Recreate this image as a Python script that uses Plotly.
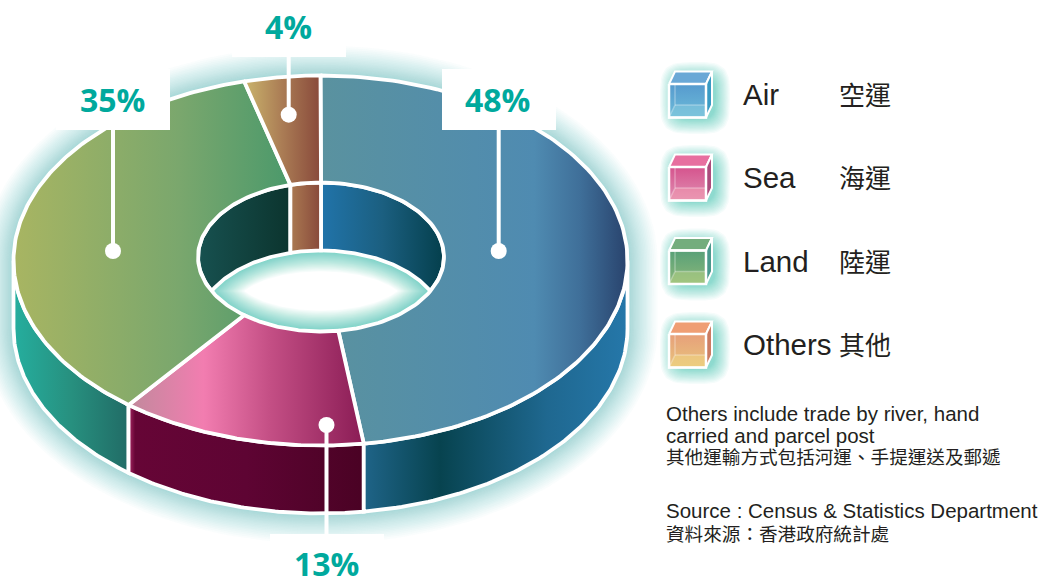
import numpy as np
import plotly.graph_objects as go

# ---- data ----
categories = ["Air", "Sea", "Land", "Others"]
categories_zh = ["空運", "海運", "陸運", "其他"]
pct_labels = ["48%", "13%", "35%", "4%"]
shares = [47.75, 13.0, 35.25, 4.0]

notes_en = ["Others include trade by river, hand", "carried and parcel post"]
note_zh = "其他運輸方式包括河運、手提運送及郵遞"
source_en = "Source : Census & Statistics Department"
source_zh = "資料來源：香港政府統計處"

# ---- canvas geometry (pixel-like axes) ----
W, H = 1040, 576
CX, CY, RX, RY = 320.5, 260.5, 307, 185
ICX, ICY, IRX, IRY = 321, 257, 123, 74.5
DEPTH = 68
TEAL = "#00a99d"
INK = "#231f20"
SANS = "Liberation Sans"
CJK = "Noto Sans CJK TC"

top_stops = {
    "Air": (320, 626, [(0, "#5a929f"), (.70, "#4f8bb1"), (.85, "#3f6f99"), (1, "#29446e")]),
    "Sea": (128, 364, [(0, "#c08a9c"), (.32, "#f27db0"), (.6, "#c44f85"), (1, "#8a1c55")]),
    "Land": (14, 290, [(0, "#a8b562"), (.6, "#7aa76d"), (1, "#4b996b")]),
    "Others": (243, 320, [(0, "#cbb66d"), (.5, "#ab7d55"), (1, "#894a3b")]),
}
side_stops = {
    "Air": (364, 626, [(0, "#1f6488"), (.29, "#07434f"), (.7, "#1f6890"), (1, "#2577a9")]),
    "Sea": (128, 364, [(0, "#b02a68"), (.03, "#660536"), (.5, "#5e0433"), (1, "#4a0224")]),
    "Land": (14, 128, [(0, "#25ae9e"), (.5, "#27907f"), (1, "#216c66")]),
}
wall_stops = {
    "Air": (321, 444, [(0, "#2174aa"), (.5, "#1b5f80"), (1, "#043f4c")]),
    "Land": (198, 288, [(0, "#175150"), (1, "#0c352f")]),
    "Others": (288, 320, [(0, "#ae7e54"), (1, "#884a3b")]),
}
cube_faces = {
    "Air": dict(top="#6aa8d6", right="#3a9bc3", front=("#569ace", "#6dbcd9"), floor="#8fcfe0"),
    "Sea": dict(top="#e76f9f", right="#ac4b7c", front=("#d5538d", "#e08fb2"), floor="#f6a0b2"),
    "Land": dict(top="#74ad7d", right="#4a998c", front=("#58a078", "#8cb879"), floor="#bcd488"),
    "Others": dict(top="#ef9e74", right="#cb7c62", front=("#e79f7a", "#e8c47c"), floor="#f2da84"),
}
cube_tops = [84, 167, 250.5, 334]
legend_y = [94, 177, 261, 344]

# ---- angles derived from the values ----
edges = np.cumsum([0] + shares) / sum(shares) * 360.0
spans = {c: (edges[i], edges[i + 1]) for i, c in enumerate(categories)}

fig = go.Figure()


def th(a, b, n=80):
    return np.radians(np.linspace(a, b, n))


def pt(t, cx, cy, rx, ry, dy=0):
    return cx + rx * np.sin(t), cy - ry * np.cos(t) + dy


def poly(x, y, **kw):
    x = list(x) + [x[0]]
    y = list(y) + [y[0]]
    kw.setdefault("line", dict(width=0))
    fig.add_trace(go.Scatter(x=x, y=y, mode="lines", fill="toself", hoverinfo="skip",
                             showlegend=False, **kw))


def grad(stops):
    a, b, cs = stops
    return dict(type="horizontal", start=a, stop=b, colorscale=[[f, c] for f, c in cs])


def line(x, y, color="white", width=3.8):
    fig.add_trace(go.Scatter(x=list(x), y=list(y), mode="lines", hoverinfo="skip", showlegend=False,
                             line=dict(color=color, width=width)))


WHITE = dict(color="white", width=3.8)

# outer glow: nested silhouettes, denser near the edge
N_GLOW = 26
for i in range(N_GLOW, 0, -1):
    k = 30 * (i / N_GLOW) ** 1.6
    x1, y1 = pt(th(-90, 90, 100), CX, CY, RX + k, RY + k)
    x2, y2 = pt(th(90, 270, 100), CX, CY, RX + k, RY + k, DEPTH)
    poly(np.r_[x1, x2], np.r_[y1, y2], fillcolor="rgba(95,205,190,0.033)")

# outer side walls
for c in ["Land", "Sea", "Air"]:
    a, b = spans[c]
    if c == "Air":
        a = 90
    if c == "Land":
        b = 270
    t = th(a, b)
    xa, ya = pt(t, CX, CY, RX, RY)
    xb, yb = pt(t[::-1], CX, CY, RX, RY, DEPTH)
    poly(np.r_[xa, xb], np.r_[ya, yb], fillgradient=grad(side_stops[c]), line=WHITE)

# hole: lens between the inner top rim and the inner floor rim
lens_c = np.degrees(np.arcsin(np.sqrt(1 - ((DEPTH / 2) / IRY) ** 2)))
fx, fy = pt(th(180 - lens_c, 180 + lens_c, 60), ICX, ICY, IRX, IRY)
bx, by = pt(th(-lens_c, lens_c, 60), ICX, ICY, IRX, IRY, DEPTH)
lx = np.r_[fx[::-1], bx]
ly = np.r_[fy[::-1], by]
poly(lx, ly, fillcolor="#7ad3c6")
lcx, lcy = ICX, ICY + DEPTH / 2
N_HOLE = 24
for j in range(N_HOLE):
    # blend from teal at the rim to pure white in the middle
    frac = (j + 1) / N_HOLE
    sx, sy = 1 - 0.30 * frac, 1 - 0.52 * frac
    poly(lcx + (lx - lcx) * sx, lcy + (ly - lcy) * sy,
         fillcolor=f"rgba(255,255,255,{1 / (N_HOLE - j):.3f})")

# inner walls
for c, (a, b), (pa, pb) in [
    ("Air", (0, 180 - lens_c), (0, lens_c)),
    ("Land", (-(180 - lens_c), spans["Land"][1] - 360), (-lens_c, spans["Land"][1] - 360)),
    ("Others", (spans["Others"][0] - 360, 0), (spans["Others"][0] - 360, 0)),
]:
    xa, ya = pt(th(a, b), ICX, ICY, IRX, IRY)
    xb, yb = pt(th(pb, pa), ICX, ICY, IRX, IRY, DEPTH)
    poly(np.r_[xa, xb], np.r_[ya, yb], fillgradient=grad(wall_stops[c]), line=WHITE)

# top faces
for c in categories:
    a, b = spans[c]
    xa, ya = pt(th(a, b, 140), CX, CY, RX, RY)
    xb, yb = pt(th(b, a, 80), ICX, ICY, IRX, IRY)
    poly(np.r_[xa, xb], np.r_[ya, yb], fillgradient=grad(top_stops[c]), line=WHITE)

# percentage labels: white box, leader, dot
label_boxes = [(442, 69, 556, 130), (270, 534, 384, 578), (56, 69, 170, 130), (232, -2, 346, 57)]
leaders = [(498.7, 130, 251), (326.5, 534, 425), (113, 130, 251), (288.7, 57, 114.7)]
label_pos = [(497.5, 99), (326, 563.5), (112.5, 99), (288.5, 26)]
for i, c in enumerate(categories):
    x0, y0, x1, y1 = label_boxes[i]
    poly([x0, x1, x1, x0], [y0, y0, y1, y1], fillcolor="white")
    lxx, ly0, ly1 = leaders[i]
    line([lxx, lxx], [ly0, ly1], width=4)
    fig.add_trace(go.Scatter(x=[lxx], y=[ly1], mode="markers", hoverinfo="skip", showlegend=False,
                             marker=dict(color="white", size=16, line=dict(width=0))))
    fig.add_annotation(x=label_pos[i][0], y=label_pos[i][1], text=f"<b>{pct_labels[i]}</b>",
                       showarrow=False, xanchor="center", yanchor="middle",
                       font=dict(family="Open Sans", size=32, color=TEAL))

# legend cubes
CW, CH, OX, OY = 37, 33.5, 6, -12.5
ang = np.radians(np.linspace(0, 360, 48))
for c, top in zip(categories, cube_tops):
    x0 = 669
    s = cube_faces[c]
    # soft glow, offset to the lower right
    for i in range(16, 0, -1):
        k = 15 * (i / 16) ** 1.3
        a_x, a_y = x0 + 26, top + 14
        hw, hh = 20 + k, 21 + k
        gx = a_x + np.sign(np.cos(ang)) * hw * np.abs(np.cos(ang)) ** 0.55
        gy = a_y + np.sign(np.sin(ang)) * hh * np.abs(np.sin(ang)) ** 0.55
        poly(gx, gy, fillcolor="rgba(70,195,180,0.055)")
    poly([x0, x0 + OX, x0 + OX + CW, x0 + CW], [top, top + OY, top + OY, top], fillcolor=s["top"], line=dict(color="white", width=2))
    poly([x0 + CW, x0 + CW + OX, x0 + CW + OX, x0 + CW], [top, top + OY, top + OY + CH, top + CH], fillcolor=s["right"], line=dict(color="white", width=2))
    poly([x0, x0 + CW, x0 + CW, x0], [top, top, top + CH, top + CH],
         fillgradient=dict(type="vertical", start=top, stop=top + CH,
                           colorscale=[[0, s["front"][0]], [1, s["front"][1]]]),
         line=dict(color="white", width=2))
    poly([x0, x0 + OX, x0 + CW, x0 + CW], [top + CH, top + CH + OY, top + CH + OY, top + CH],
         fillcolor=s["floor"], opacity=0.45)
    line([x0, x0 + OX, x0 + OX], [top + CH, top + CH + OY, top], color="rgba(255,255,255,0.3)", width=1.5)
    line([x0 + OX, x0 + CW], [top + CH + OY, top + CH + OY], color="rgba(255,255,255,0.3)", width=1.5)
    line([x0, x0 + CW, x0 + CW, x0, x0], [top, top, top + CH, top + CH, top], width=2.5)

# legend and note text
def text(x, y, s, family, size):
    fig.add_annotation(x=x, y=y, text=s, showarrow=False, xanchor="left", yanchor="middle",
                       font=dict(family=family, size=size, color=INK))


for c, z, y in zip(categories, categories_zh, legend_y):
    text(741, y, c, SANS, 29.5)
    text(837, y - 1, z, CJK, 26)

text(663.5, 413.2, notes_en[0], SANS, 20.5)
text(663.5, 435.2, notes_en[1], SANS, 20.5)
text(663.5, 455.5, note_zh, CJK, 18.6)
text(663.5, 510.2, source_en, SANS, 20.5)
text(663.5, 532, source_zh, CJK, 18.6)

axis = dict(visible=False, fixedrange=True)
fig.update_layout(
    width=W, height=H, margin=dict(l=0, r=0, t=0, b=0), showlegend=False,
    paper_bgcolor="white", plot_bgcolor="white",
    xaxis=dict(range=[0, W], **axis), yaxis=dict(range=[H, 0], **axis),
)
fig.write_html("out.html", post_script="document.body.style.margin='0';", config=dict(displayModeBar=False))
